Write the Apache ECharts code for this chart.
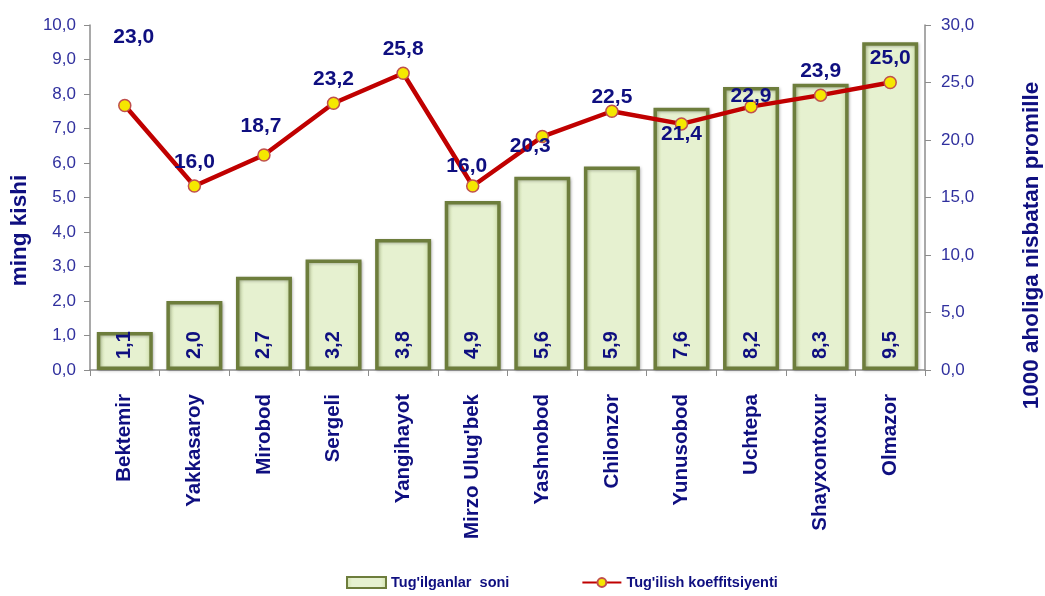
<!DOCTYPE html>
<html><head><meta charset="utf-8">
<script src="https://cdn.jsdelivr.net/npm/echarts@6/dist/echarts.min.js"></script>
<style>html,body{margin:0;padding:0;background:#fff}#c{width:1045px;height:596px}</style>
</head><body><div id="c"></div>
<script>
const categories = ["Bektemir","Yakkasaroy","Mirobod","Sergeli","Yangihayot","Mirzo Ulug'bek","Yashnobod","Chilonzor","Yunusobod","Uchtepa","Shayxontoxur","Olmazor"];
const births = [1.1, 2.0, 2.7, 3.2, 3.8, 4.9, 5.6, 5.9, 7.6, 8.2, 8.3, 9.5];
const birthRate = [23.0, 16.0, 18.7, 23.2, 25.8, 16.0, 20.3, 22.5, 21.4, 22.9, 23.9, 25.0];
const leftTicks = [0,1,2,3,4,5,6,7,8,9,10];
const rightTicks = [0,5,10,15,20,25,30];
// label offsets (style only) for the line labels
const lineLabelShift = [[9,-44],[0,0],[-3,-4],[0,0],[0,0],[-6,4],[-12,34],[0,10],[0,35],[0,14],[0,0],[0,0]];

const navy = '#0f0f80';
const fmt = v => Number(v).toFixed(1).replace('.', ',');
const chart = echarts.init(document.getElementById('c'));
chart.setOption({
  animation: false,
  textStyle: {fontFamily: 'Liberation Sans, Arial, sans-serif'},
  grid: {left: 90, right: 120, top: 25, bottom: 226, outerBoundsMode: 'none', containLabel: false},
  legend: {
    bottom: 1, left: 341, itemGap: 72, itemWidth: 39, itemHeight: 11,
    textStyle: {color: navy, fontWeight: 'bold', fontSize: 14.5},
    data: [{name: "Tug'ilganlar  soni", icon: 'rect'}, {name: "Tug'ilish koeffitsiyenti"}]
  },
  xAxis: {
    type: 'category', data: categories,
    axisLine: {lineStyle: {color: '#8c8c8c', width: 1.5}},
    axisTick: {show: true, length: 6, lineStyle: {color: '#8c8c8c'}},
    axisLabel: {interval: 0, rotate: 90, color: navy, fontWeight: 'bold', fontSize: 20.5, margin: 24}
  },
  yAxis: [{
    type: 'value', min: 0, max: 10, interval: 1,
    name: 'ming kishi', nameLocation: 'middle', nameGap: 59, nameRotate: 90,
    nameTextStyle: {color: navy, fontWeight: 'bold', fontSize: 22.5, padding: [0, 66, 0, 0]},
    axisLine: {show: true, lineStyle: {color: '#8c8c8c', width: 1.5}},
    axisTick: {show: true, length: 6, lineStyle: {color: '#8c8c8c'}},
    splitLine: {show: false},
    axisLabel: {color: '#30309e', fontSize: 17, margin: 14, formatter: v => fmt(v)}
  }, {
    type: 'value', min: 0, max: 30, interval: 5, position: 'right',
    name: '1000 aholiga nisbatan promille', nameLocation: 'middle', nameGap: 95, nameRotate: 90,
    nameTextStyle: {color: navy, fontWeight: 'bold', fontSize: 22.5, padding: [0, 96, 0, 0]},
    axisLine: {show: true, lineStyle: {color: '#8c8c8c', width: 1.5}},
    axisTick: {show: true, length: 6, lineStyle: {color: '#8c8c8c'}},
    splitLine: {show: false},
    axisLabel: {color: '#30309e', fontSize: 17, margin: 16, formatter: v => fmt(v)}
  }],
  series: [{
    name: "Tug'ilganlar  soni", type: 'bar', yAxisIndex: 0, data: births, barWidth: 56,
    itemStyle: {
      color: new echarts.graphic.LinearGradient(0, 0, 1, 0, [
        {offset: 0, color: '#cfe0a8'}, {offset: 0.15, color: '#e6f1d0'},
        {offset: 0.85, color: '#e6f1d0'}, {offset: 1, color: '#cfe0a8'}]),
      borderColor: '#6d7d3c', borderWidth: 3.5,
      shadowColor: 'rgba(0,0,0,0.25)', shadowBlur: 3, shadowOffsetX: 1, shadowOffsetY: 1
    },
    label: {show: true, position: 'insideBottom', rotate: 90, align: 'left', verticalAlign: 'middle',
      distance: 11, color: navy, fontWeight: 'bold', fontSize: 20, formatter: p => fmt(p.value)}
  }, {
    name: "Tug'ilish koeffitsiyenti", type: 'line', yAxisIndex: 1,
    data: birthRate.map((v, i) => ({value: v, label: {offset: lineLabelShift[i]}})),
    lineStyle: {color: '#c00000', width: 4.5},
    itemStyle: {color: '#f5e800', borderColor: '#c0504d', borderWidth: 1.5},
    symbol: 'circle', symbolSize: 12, z: 5,
    label: {show: true, position: 'top', distance: 7, color: navy, fontWeight: 'bold', fontSize: 21,
      formatter: p => fmt(p.value)}
  }]
});
</script></body></html>
